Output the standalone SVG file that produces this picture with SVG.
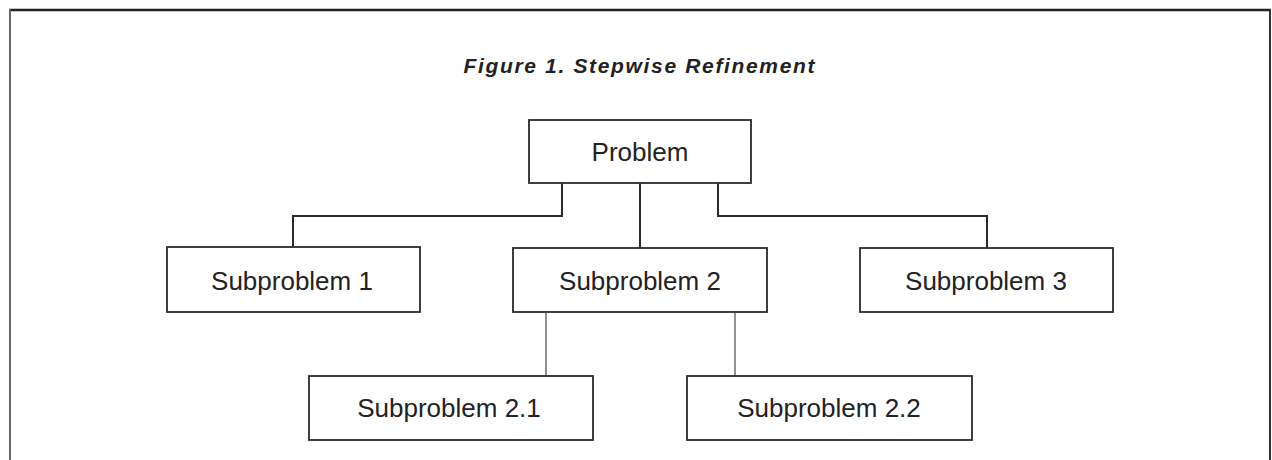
<svg xmlns="http://www.w3.org/2000/svg" width="1272" height="460" viewBox="0 0 1272 460">
<style>
  .box { fill: #ffffff; stroke: #2b2b2b; stroke-width: 1.8; }
  .lbl { font-family: "Liberation Sans", Arial, sans-serif; font-size: 26px; fill: #222222; text-anchor: middle; }
  .title { font-family: "Liberation Sans", Arial, sans-serif; font-size: 21px; font-weight: bold; font-style: italic; fill: #222222; text-anchor: middle; }
  .con { fill: none; stroke: #2b2b2b; stroke-width: 2; }
  .con2 { fill: none; stroke: #777777; stroke-width: 1.6; }
</style>
<rect x="0" y="0" width="1272" height="460" fill="#ffffff"/>
<g id="frame">
  <line x1="9" y1="10" x2="1271" y2="10" stroke="#222222" stroke-width="2.6"/>
  <line x1="10" y1="9" x2="10" y2="460" stroke="#666666" stroke-width="2"/>
  <line x1="1270" y1="9" x2="1270" y2="460" stroke="#333333" stroke-width="2"/>
</g>
<text id="title" class="title" x="639" y="73" textLength="351" lengthAdjust="spacing">Figure 1. Stepwise Refinement</text>
<g id="connectors">
  <polyline class="con" points="562,183 562,216 293,216 293,247"/>
  <line class="con" x1="640" y1="183" x2="640" y2="248"/>
  <polyline class="con" points="718,183 718,216 987,216 987,248"/>
  <line class="con2" x1="546" y1="313" x2="546" y2="376"/>
  <line class="con2" x1="735" y1="313" x2="735" y2="376"/>
</g>
<g id="problem">
  <rect class="box" x="529" y="120" width="222" height="63"/>
  <text class="lbl" x="640" y="161">Problem</text>
</g>
<g id="subproblem1">
  <rect class="box" x="167" y="247" width="253" height="65"/>
  <text class="lbl" x="292" y="290">Subproblem 1</text>
</g>
<g id="subproblem2">
  <rect class="box" x="513" y="248" width="254" height="64"/>
  <text class="lbl" x="640" y="290">Subproblem 2</text>
</g>
<g id="subproblem3">
  <rect class="box" x="860" y="248" width="253" height="64"/>
  <text class="lbl" x="986" y="290">Subproblem 3</text>
</g>
<g id="subproblem21">
  <rect class="box" x="309" y="376" width="284" height="64"/>
  <text class="lbl" x="449" y="417">Subproblem 2.1</text>
</g>
<g id="subproblem22">
  <rect class="box" x="687" y="376" width="285" height="64"/>
  <text class="lbl" x="829" y="417">Subproblem 2.2</text>
</g>
</svg>
